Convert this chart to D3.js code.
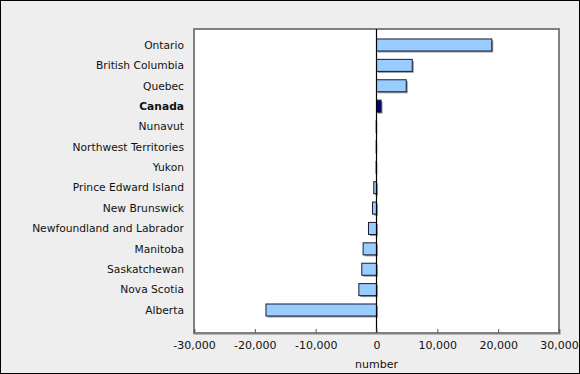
<!DOCTYPE html>
<html>
<head>
<meta charset="utf-8">
<script src="https://cdn.jsdelivr.net/npm/d3@7"></script>
<style>
  html, body { margin: 0; padding: 0; background: #eeeeee; }
  svg { display: block; }
</style>
</head>
<body>
<div id="chart"></div>
<script>
const regions = ["Ontario", "British Columbia", "Quebec", "Canada", "Nunavut",
  "Northwest Territories", "Yukon", "Prince Edward Island", "New Brunswick",
  "Newfoundland and Labrador", "Manitoba", "Saskatchewan", "Nova Scotia", "Alberta"];
const values = [18950, 5880, 4890, 750, -50, -50, -60, -450, -660, -1320, -2200, -2420, -2900, -18170];
const ticks = [-30000, -20000, -10000, 0, 10000, 20000, 30000];

const width = 580, height = 374;
const plotLeft = 194, plotRight = 559, plotTop = 29, plotBottom = 333;

const svg = d3.select("#chart").append("svg")
    .attr("width", width)
    .attr("height", height)
    .style("font-family", "Verdana, 'DejaVu Sans', sans-serif");

svg.append("rect")
    .attr("x", 0.5).attr("y", 0.5)
    .attr("width", width - 1).attr("height", height - 1)
    .attr("fill", "#eeeeee")
    .attr("stroke", "#000");

const x = d3.scaleLinear().domain([-30000, 30000]).range([plotLeft, plotRight]);
const y = d3.scaleBand().domain(regions).range([34.8, 320.2])
    .paddingInner(0.41).paddingOuter(0.205);

// plot area
svg.append("rect")
    .attr("x", plotLeft).attr("y", plotTop)
    .attr("width", plotRight - plotLeft).attr("height", plotBottom - plotTop)
    .attr("fill", "#fff")
    .attr("stroke", "#808080")
    .attr("stroke-width", 2);

const data = regions.map((r, i) => ({ name: r, value: values[i] }));

// shadows
svg.append("g")
  .selectAll("rect")
  .data(data)
  .join("rect")
    .attr("x", d => Math.min(x(0), x(d.value)) + 1.5)
    .attr("y", d => y(d.name) + 1.5)
    .attr("width", d => Math.abs(x(d.value) - x(0)))
    .attr("height", y.bandwidth())
    .attr("fill", "#999");

svg.append("g")
  .selectAll("rect")
  .data(data)
  .join("rect")
    .attr("x", d => Math.min(x(0), x(d.value)))
    .attr("y", d => y(d.name))
    .attr("width", d => Math.abs(x(d.value) - x(0)))
    .attr("height", y.bandwidth())
    .attr("fill", d => d.name === "Canada" ? "#000080" : "#99ccff")
    .attr("stroke", "#1a1a33")
    .attr("stroke-width", 1);

// zero line
svg.append("line")
    .attr("x1", x(0)).attr("x2", x(0))
    .attr("y1", plotTop).attr("y2", plotBottom)
    .attr("stroke", "#000")
    .attr("stroke-width", 1.2);

// bottom axis
const fmt = d3.format(",");
const xAxis = d3.axisBottom(x)
    .tickValues(ticks)
    .tickSize(-4)
    .tickPadding(8)
    .tickFormat(d => fmt(d).replace("\u2212", "-"));

const ax = svg.append("g")
    .attr("transform", `translate(0,${plotBottom})`)
    .call(xAxis);
ax.attr("font-family", null);
ax.select(".domain").attr("stroke", "#808080").attr("stroke-width", 2);
ax.selectAll(".tick line").attr("stroke", "#555");
ax.selectAll("text")
    .attr("font-size", 11)
    .attr("fill", "#111");

// category labels
svg.append("g")
  .selectAll("text")
  .data(data)
  .join("text")
    .attr("x", plotLeft - 10)
    .attr("y", d => y(d.name) + y.bandwidth() / 2)
    .attr("dy", "0.35em")
    .attr("text-anchor", "end")
    .attr("font-size", 10.7)
    .attr("font-weight", d => d.name === "Canada" ? "bold" : "normal")
    .attr("fill", "#111")
    .text(d => d.name);

svg.append("text")
    .attr("x", x(0))
    .attr("y", 368)
    .attr("text-anchor", "middle")
    .attr("font-size", 11)
    .attr("fill", "#111")
    .text("number");
</script>
</body>
</html>
